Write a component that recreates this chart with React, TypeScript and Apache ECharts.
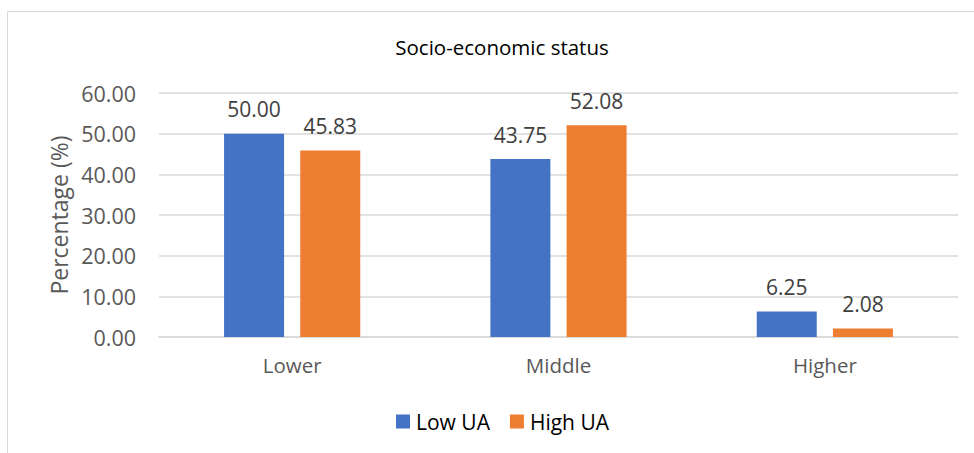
import React, { useEffect, useRef } from "react";
import * as echarts from "echarts";

const categories = ["Lower", "Middle", "Higher"];
const lowUA = [50.0, 43.75, 6.25];
const highUA = [45.83, 52.08, 2.08];
const seriesNames = ["Low UA", "High UA"];
const titleText = "Socio-economic status";
const yAxisName = "Percentage (%)";

const FONT = "'Open Sans', 'Noto Sans', sans-serif";

export default function App() {
  const ref = useRef<HTMLDivElement>(null);
  useEffect(() => {
    if (!ref.current) return;
    const chart = echarts.init(ref.current, null, { renderer: "svg" });
    const labelCfg = {
      show: true,
      position: "top",
      distance: 14,
      color: "#404040",
      fontSize: 21,
      fontFamily: FONT,
      formatter: (p: any) => Number(p.value).toFixed(2),
    };
    chart.setOption({
      animation: false,
      backgroundColor: "#ffffff",
      textStyle: { fontFamily: FONT },
      title: {
        text: titleText,
        left: 497,
        textAlign: "center",
        top: 31,
        textStyle: { fontSize: 20.5, fontWeight: "normal", color: "#000000", fontFamily: FONT },
      },
      graphic: [
        {
          type: "rect",
          shape: { x: 7.5, y: 11.5, width: 1000, height: 500 },
          style: { fill: "none", stroke: "#d9d9d9", lineWidth: 1 },
          silent: true,
        },
      ],
      legend: {
        data: seriesNames,
        bottom: 16,
        left: 391,
        itemWidth: 14,
        itemHeight: 14,
        itemGap: 20,
        icon: "rect",
        textStyle: { fontSize: 21, color: "#000000", fontFamily: FONT, padding: [0, 0, 0, 1] },
      },
      grid: { left: 159, right: 16, top: 93, bottom: 116 },
      xAxis: {
        type: "category",
        data: categories,
        axisLine: { lineStyle: { color: "#d9d9d9", width: 1.5 } },
        axisTick: { show: false },
        axisLabel: { color: "#595959", fontSize: 20.5, margin: 17, fontFamily: FONT },
      },
      yAxis: {
        type: "value",
        min: 0,
        max: 60,
        interval: 10,
        name: yAxisName,
        nameLocation: "middle",
        nameGap: 86,
        nameRotate: 90,
        nameTextStyle: { color: "#595959", fontSize: 23, fontFamily: FONT },
        axisLine: { show: false },
        axisTick: { show: false },
        splitLine: { lineStyle: { color: "#d9d9d9", width: 1.5 } },
        axisLabel: {
          color: "#595959",
          fontSize: 21.5,
          margin: 23,
          fontFamily: FONT,
          formatter: (v: number) => v.toFixed(2),
        },
      },
      series: [
        {
          name: seriesNames[0],
          type: "bar",
          data: lowUA,
          barWidth: 60,
          barGap: "27%",
          itemStyle: { color: "#4472C4" },
          label: labelCfg,
        },
        {
          name: seriesNames[1],
          type: "bar",
          data: highUA,
          barWidth: 60,
          barGap: "27%",
          itemStyle: { color: "#ED7D31" },
          label: labelCfg,
        },
      ],
    });
    return () => chart.dispose();
  }, []);
  return (
    <div
      ref={ref}
      style={{ position: "fixed", left: 0, top: 0, width: 974, height: 453, background: "#fff" }}
    />
  );
}
